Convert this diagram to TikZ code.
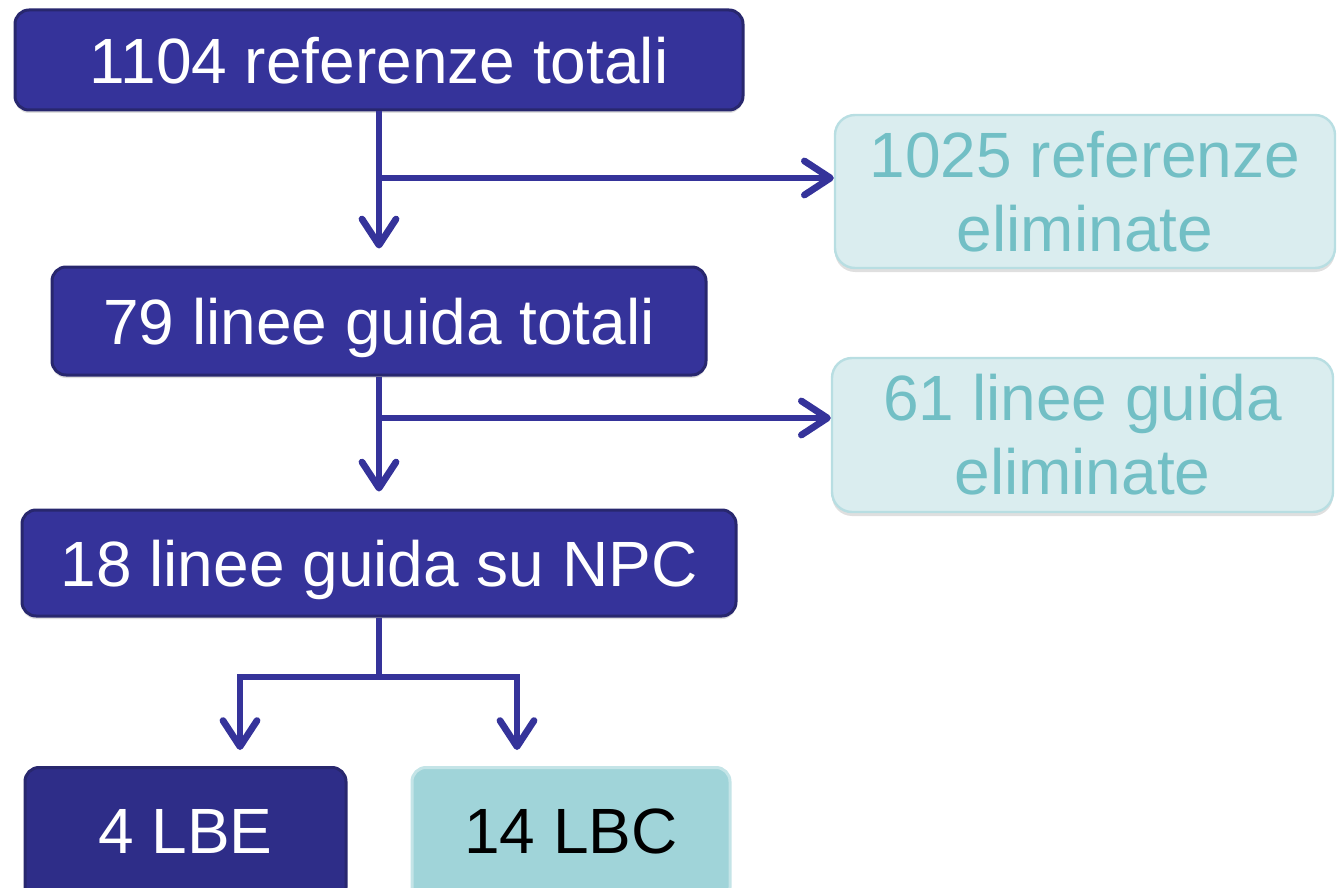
\documentclass[tikz,border=0pt]{standalone}
\usepackage{fontspec}
\setmainfont{Liberation Sans}
\usetikzlibrary{arrows.meta,shadows}
\definecolor{navy}{HTML}{35339A}
\definecolor{navyline}{HTML}{28276E}
\definecolor{navydk}{HTML}{2E2D88}
\definecolor{elfill}{HTML}{DAEDEF}
\definecolor{elline}{HTML}{B8DEE2}
\definecolor{eltext}{HTML}{72BFC5}
\definecolor{lbcfill}{HTML}{A0D4D9}
\definecolor{lbcline}{HTML}{C4E4E7}
\tikzset{dk/.style = {rectangle, rounded corners=7pt, draw=navyline, line width=1.5pt, fill=navy, text=white,
                      font=\fontsize{32}{37}\selectfont, text height=23.5pt, text depth=0pt, inner sep=0pt,
                      drop shadow={shadow xshift=0pt, shadow yshift=-1.5pt, opacity=0.25}},
         el/.style = {rectangle, rounded corners=10pt, draw=elline, line width=1.2pt, fill=elfill, text=eltext,
                      align=center, font=\fontsize{32}{37}\selectfont, inner sep=0pt,
                      drop shadow={shadow xshift=0pt, shadow yshift=-2pt, opacity=0.25}},
         bt/.style = {rectangle, rounded corners=7pt, line width=1.5pt, font=\fontsize{32}{37}\selectfont,
                      anchor=north, text height=43pt, text depth=24pt, inner sep=0pt},
         fl/.style = {draw=navy, line width=3.4pt, -{Straight Barb[length=13pt, width=17pt, round]}}}

\begin{document}
\begin{tikzpicture}[x=0.5pt, y=-0.5pt]
    \useasboundingbox (0,0) rectangle (1340,888);
    \node[dk, minimum width=364pt, minimum height=50pt] (a) at (379,60) {1104 referenze totali};
    \node[dk, minimum width=327pt, minimum height=54pt] (b) at (379,321) {79 linee guida totali};
    \node[dk, minimum width=357pt, minimum height=53pt] (c) at (379,563) {18 linee guida su NPC};
    \node[el, minimum width=250pt, minimum height=76.5pt] (f) at (1085,191.5) {1025 referenze\\eliminate};
    \node[el, minimum width=250.5pt, minimum height=77pt] (g) at (1082.5,435) {61 linee guida\\eliminate};
    \node[bt, draw=navyline, fill=navydk, text=white, minimum width=160.5pt] (lbe) at (185.5,766) {4 LBE};
    \node[bt, draw=lbcline, fill=lbcfill, text=black, minimum width=159pt] (lbc) at (571,766) {14 LBC};
    \coordinate (j1) at (379,178);
    \coordinate (j2) at (379,418);
    \coordinate (j3) at (379,677);
    \coordinate (t1) at (240,750);
    \coordinate (t2) at (517,750);
    \draw[fl, shorten >=8.5pt] (a.south) -- (b.north);
    \draw[fl] (j1) -- (j1 -| f.west);
    \draw[fl, shorten >=8.5pt] (b.south) -- (c.north);
    \draw[fl] (j2) -- (j2 -| g.west);
    \draw[fl] (c.south) -- (j3) -| (t1);
    \draw[fl] (j3) -| (t2);
\end{tikzpicture}
\end{document}
